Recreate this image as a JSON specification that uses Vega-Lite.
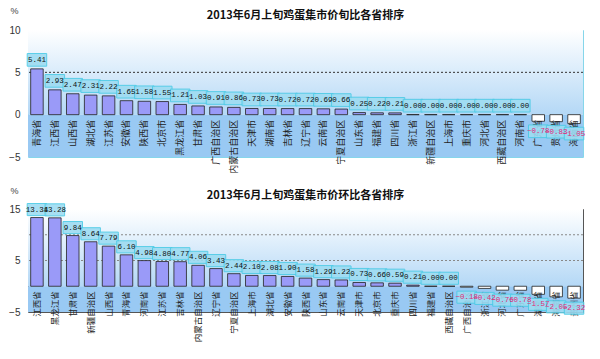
{
  "$schema": "https://vega.github.io/schema/vega-lite/v6.json",
  "padding": {"left": 8, "top": 5, "right": 5, "bottom": 5},
  "background": "white",
  "bounds": "flush",
  "spacing": 52,
  "config": {"font": "Noto Sans CJK SC"},
  "datasets": {
    "top": [
      {"p": "青海省", "v": 5.41}, {"p": "江西省", "v": 2.93}, {"p": "山西省", "v": 2.47},
      {"p": "湖北省", "v": 2.31}, {"p": "江苏省", "v": 2.22}, {"p": "安徽省", "v": 1.65},
      {"p": "陕西省", "v": 1.58}, {"p": "北京市", "v": 1.55}, {"p": "黑龙江省", "v": 1.21},
      {"p": "甘肃省", "v": 1.03}, {"p": "广西自治区", "v": 0.91}, {"p": "内蒙古自治区", "v": 0.86},
      {"p": "天津市", "v": 0.73}, {"p": "湖南省", "v": 0.73}, {"p": "吉林省", "v": 0.72},
      {"p": "辽宁省", "v": 0.72}, {"p": "云南省", "v": 0.69}, {"p": "宁夏自治区", "v": 0.66},
      {"p": "山东省", "v": 0.25}, {"p": "福建省", "v": 0.22}, {"p": "四川省", "v": 0.21},
      {"p": "浙江省", "v": 0.0}, {"p": "新疆自治区", "v": 0.0}, {"p": "上海市", "v": 0.0},
      {"p": "重庆市", "v": 0.0}, {"p": "河北省", "v": 0.0}, {"p": "西藏自治区", "v": 0.0},
      {"p": "河南省", "v": 0.0}, {"p": "广东省", "v": -0.78}, {"p": "贵州省", "v": -0.83},
      {"p": "海南省", "v": -1.05}
    ],
    "bot": [
      {"p": "江西省", "v": 13.34}, {"p": "黑龙江省", "v": 13.28}, {"p": "甘肃省", "v": 9.84},
      {"p": "新疆自治区", "v": 8.64}, {"p": "山西省", "v": 7.79}, {"p": "青海省", "v": 6.10},
      {"p": "河南省", "v": 4.98}, {"p": "江苏省", "v": 4.80}, {"p": "吉林省", "v": 4.77},
      {"p": "内蒙古自治区", "v": 4.06}, {"p": "辽宁省", "v": 3.43}, {"p": "宁夏自治区", "v": 2.44},
      {"p": "上海市", "v": 2.10}, {"p": "湖北省", "v": 2.08}, {"p": "安徽省", "v": 1.90},
      {"p": "陕西省", "v": 1.58}, {"p": "山东省", "v": 1.29}, {"p": "云南省", "v": 1.22},
      {"p": "天津市", "v": 0.73}, {"p": "北京市", "v": 0.66}, {"p": "重庆市", "v": 0.59},
      {"p": "四川省", "v": 0.21}, {"p": "福建省", "v": 0.0}, {"p": "西藏自治区", "v": 0.0},
      {"p": "广西自治区", "v": -0.18}, {"p": "浙江省", "v": -0.42}, {"p": "河北省", "v": -0.76},
      {"p": "广东省", "v": -0.78}, {"p": "湖南省", "v": -1.57}, {"p": "海南省", "v": -2.05},
      {"p": "贵州省", "v": -2.32}
    ]
  },
  "vconcat": [
    {
      "width": 555,
      "height": 127,
      "view": {"stroke": "#86d6ea", "strokeWidth": 1},
      "title": {"text": "2013年6月上旬鸡蛋集市价旬比各省排序", "frame": "group", "anchor": "middle", "offset": -15, "fontSize": 11, "fontWeight": "bold", "font": "Noto Sans CJK SC", "color": "#111"},
      "layer": [
        {
          "data": {"values": [{}]},
          "mark": {"type": "rect", "color": {"gradient": "linear", "x1": 0, "y1": 0, "x2": 0, "y2": 1, "stops": [{"offset": 0, "color": "#ffffff"}, {"offset": 1, "color": "#b4d8f6"}]}},
          "encoding": {
            "y": {"datum": 10, "type": "quantitative", "scale": {"domain": [-5, 10], "nice": false, "zero": false},
              "axis": {"values": [-5, 0, 5, 10], "grid": false, "ticks": false, "domain": false, "labelFont": "Liberation Sans", "labelFontSize": 10, "labelColor": "#333", "labelPadding": 8,
                "title": "%", "titleAngle": 0, "titleX": -14, "titleY": -20, "titleAlign": "center", "titleBaseline": "middle", "titleFont": "Liberation Sans", "titleFontSize": 9, "titleFontWeight": "normal", "titleColor": "#444"}},
            "y2": {"datum": 0}
          }
        },
        {
          "data": {"values": [{}]},
          "mark": {"type": "rect", "color": "#99c9f3"},
          "encoding": {"y": {"datum": 0, "type": "quantitative"}, "y2": {"datum": -5}}
        },
        {
          "data": {"values": [{}]},
          "mark": {"type": "rule", "color": "#333", "strokeDash": [2, 2], "strokeWidth": 1},
          "encoding": {"y": {"datum": 5, "type": "quantitative"}}
        },
        {
          "data": {"name": "top"},
          "mark": {"type": "bar", "stroke": "#222", "strokeWidth": 0.8},
          "encoding": {
            "x": {"field": "p", "type": "nominal", "sort": null, "scale": {"paddingInner": 0.3, "paddingOuter": 0.15}, "axis": null},
            "y": {"field": "v", "type": "quantitative"},
            "fill": {"condition": {"test": "datum.v < 0", "value": "#ffffff"}, "value": "#9a9af8"}
          }
        },
        {
          "data": {"name": "top"},
          "mark": {"type": "text", "angle": 270, "align": "right", "baseline": "middle", "dx": -5, "fontSize": 9, "font": "Noto Sans CJK SC", "color": "#222"},
          "encoding": {
            "x": {"field": "p", "type": "nominal", "sort": null},
            "y": {"datum": 0, "type": "quantitative"},
            "text": {"field": "p"}
          }
        },
        {
          "data": {"name": "top"},
          "mark": {"type": "point", "shape": "M-1,-0.65L1,-0.65L1,0.65L-1,0.65Z", "size": 380, "filled": true, "fill": "#9edcf2", "stroke": "#4ccbe6", "strokeWidth": 1, "opacity": 0.9, "yOffset": {"expr": "datum.v < 0 ? 10 : -9"}},
          "encoding": {
            "x": {"field": "p", "type": "nominal", "sort": null},
            "y": {"field": "v", "type": "quantitative"}
          }
        },
        {
          "data": {"name": "top"},
          "mark": {"type": "text", "font": "Liberation Mono", "fontSize": 7.5, "baseline": "middle", "align": "center", "yOffset": {"expr": "datum.v < 0 ? 10 : -9"}},
          "encoding": {
            "x": {"field": "p", "type": "nominal", "sort": null},
            "y": {"field": "v", "type": "quantitative"},
            "text": {"field": "v", "format": ".2f"},
            "color": {"condition": {"test": "datum.v < 0", "value": "#e02a78"}, "value": "#111"}
          }
        }
      ]
    },
    {
      "width": 555,
      "height": 103,
      "view": {"stroke": "#555", "strokeWidth": 1},
      "title": {"text": "2013年6月上旬鸡蛋集市价环比各省排序", "frame": "group", "anchor": "middle", "offset": -15, "fontSize": 11, "fontWeight": "bold", "font": "Noto Sans CJK SC", "color": "#111"},
      "layer": [
        {
          "data": {"values": [{}]},
          "mark": {"type": "rect", "color": {"gradient": "linear", "x1": 0, "y1": 0, "x2": 0, "y2": 1, "stops": [{"offset": 0, "color": "#ffffff"}, {"offset": 1, "color": "#b4d8f6"}]}},
          "encoding": {
            "y": {"datum": 15, "type": "quantitative", "scale": {"domain": [-5, 15], "nice": false, "zero": false},
              "axis": {"values": [-5, 0, 5, 10, 15], "grid": false, "ticks": false, "domain": false, "labelFont": "Liberation Sans", "labelFontSize": 10, "labelColor": "#333", "labelPadding": 8,
                "title": "%", "titleAngle": 0, "titleX": -14, "titleY": -19, "titleAlign": "center", "titleBaseline": "middle", "titleFont": "Liberation Sans", "titleFontSize": 9, "titleFontWeight": "normal", "titleColor": "#444"}},
            "y2": {"datum": 0}
          }
        },
        {
          "data": {"values": [{}]},
          "mark": {"type": "rect", "color": "#99c9f3"},
          "encoding": {"y": {"datum": 0, "type": "quantitative"}, "y2": {"datum": -5}}
        },
        {
          "data": {"values": [{"g": 5}, {"g": 10}]},
          "mark": {"type": "rule", "color": "#888", "strokeDash": [2, 2], "strokeWidth": 1},
          "encoding": {"y": {"field": "g", "type": "quantitative"}}
        },
        {
          "data": {"name": "bot"},
          "mark": {"type": "bar", "stroke": "#222", "strokeWidth": 0.8},
          "encoding": {
            "x": {"field": "p", "type": "nominal", "sort": null, "scale": {"paddingInner": 0.3, "paddingOuter": 0.15}, "axis": null},
            "y": {"field": "v", "type": "quantitative"},
            "fill": {"condition": {"test": "datum.v < 0", "value": "#ffffff"}, "value": "#9a9af8"}
          }
        },
        {
          "data": {"name": "bot"},
          "mark": {"type": "text", "angle": 270, "align": "right", "baseline": "middle", "dx": -5, "fontSize": 8.5, "font": "Noto Sans CJK SC", "color": "#222"},
          "encoding": {
            "x": {"field": "p", "type": "nominal", "sort": null},
            "y": {"datum": 0, "type": "quantitative"},
            "text": {"field": "p"}
          }
        },
        {
          "data": {"name": "bot"},
          "mark": {"type": "point", "shape": "M-1,-0.62L1,-0.62L1,0.62L-1,0.62Z", "size": 380, "filled": true, "fill": "#9edcf2", "stroke": "#4ccbe6", "strokeWidth": 1, "opacity": 0.9, "yOffset": {"expr": "datum.v < 0 ? 10 : -8"}},
          "encoding": {
            "x": {"field": "p", "type": "nominal", "sort": null},
            "y": {"field": "v", "type": "quantitative"}
          }
        },
        {
          "data": {"name": "bot"},
          "mark": {"type": "text", "font": "Liberation Mono", "fontSize": 7.5, "baseline": "middle", "align": "center", "yOffset": {"expr": "datum.v < 0 ? 10 : -8"}},
          "encoding": {
            "x": {"field": "p", "type": "nominal", "sort": null},
            "y": {"field": "v", "type": "quantitative"},
            "text": {"field": "v", "format": ".2f"},
            "color": {"condition": {"test": "datum.v < 0", "value": "#e02a78"}, "value": "#111"}
          }
        }
      ]
    }
  ]
}
